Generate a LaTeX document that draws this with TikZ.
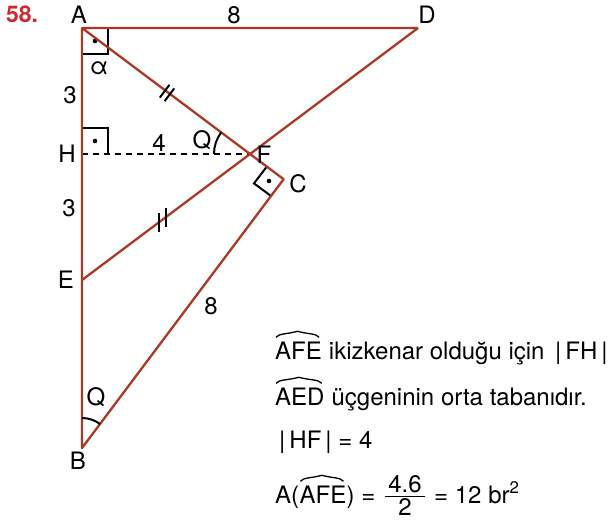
\documentclass[tikz,border=0pt]{standalone}
\usepackage{fontspec}
\setmainfont{TeX Gyre Heros}
\usetikzlibrary{calc}
\definecolor{segc}{RGB}{168,58,38}
\definecolor{numred}{RGB}{205,40,45}
\begin{document}
\begin{tikzpicture}[x=1pt,y=-1pt,
  font=\fontsize{24}{28}\selectfont,
  seg/.style={draw=segc, line width=2.3pt, line join=round},
  rmark/.style={draw=black, line width=2pt},
  dashline/.style={draw=black, line width=2pt, dash pattern=on 6pt off 5pt},
  angarc/.style={draw=black, line width=2pt},
  tickmark/.style={draw=black, line width=2pt},
  hat/.style={draw=black, line width=1.3pt, line join=round},
  lbl/.style={inner sep=0pt},
  txt/.style={inner sep=0pt, anchor=base west}]
\useasboundingbox (0,0) rectangle (612,521);
% points
\coordinate (A) at (82,28);
\coordinate (D) at (418,28);
\coordinate (H) at (82,154);
\coordinate (F) at (250,154);
\coordinate (E) at (82,280);
\coordinate (B) at (82,448);
\coordinate (C) at (283.6,179.2);
% right angle markers
\draw[rmark] ($(A)+(26,0)$) -- ++(0,26) -- ++(-26,0);
\fill (95,41) circle (2.3);
\draw[rmark] ($(H)+(0,-26)$) -- ++(26,0) -- ++(0,26);
\fill (95,141) circle (2.3);
\draw[rmark] (266.8,166.6) -- (254,183.4) -- (271,196);
\fill (269,181) circle (2.3);
% dashed
\draw[dashline] (H) -- (F);
% segments
\draw[seg] (D) -- (A) -- (B) -- (C) -- (A);
\draw[seg] (E) -- (D);
% angle arcs
\draw[angarc] ($(F)+(-36,0)$) arc[start angle=180, end angle=216.87, radius=36];
\draw[angarc] ($(B)+(0,-30)$) arc[start angle=270, end angle=307, radius=30];
% ticks
\draw[tickmark] (159.8,97.6) -- (169.4,84.8);
\draw[tickmark] (164.6,101.2) -- (174.2,88.4);
\draw[tickmark] (159,213) -- (159,231.5);
\draw[tickmark] (166,208) -- (166,226.5);
% labels
\node[lbl, text=numred, font=\fontsize{23}{27}\selectfont\bfseries] (n58) at (22,14) {58.};
\node[lbl] (lA) at (79,15) {A};
\node[lbl] (l8a) at (234,15) {8};
\node[lbl] (lD) at (427,15) {D};
\node[lbl] (lal) at (99,68) {α};
\node[lbl] (l3a) at (70,95) {3};
\node[lbl] (lH) at (67,154) {H};
\node[lbl] (l4) at (159,143) {4};
\node[lbl] (lQ1) at (202,140) {Q};
\node[lbl] (lF) at (264,155) {F};
\node[lbl] (lC) at (298,184) {C};
\node[lbl] (l3b) at (69,208) {3};
\node[lbl] (lE) at (66,280) {E};
\node[lbl] (l8b) at (211,306) {8};
\node[lbl] (lQ2) at (96,397) {Q};
\node[lbl] (lB) at (78,461) {B};
% text block
\node[txt] (t1a) at (275,359) {AFE};
\node[txt] (t1b) at (t1a.base east) {\ ikizkenar olduğu için \,|\,FH\,|};
\node[txt] (t2a) at (275,405) {AED};
\node[txt] (t2b) at (t2a.base east) {\ üçgeninin orta tabanıdır.};
\node[txt] (t3) at (279,448) {|\,HF\,| = 4};
\node[txt] (t4a) at (275,503) {A(};
\node[txt] (t4b) at (t4a.base east) {AFE};
\node[txt] (t4c) at (t4b.base east) {) =};
\node[lbl, anchor=base] (num) at (405,492) {4.6};
\node[lbl, anchor=base] (den) at (405,515) {2};
\draw[line width=1.2pt] (385,496.5) -- (425,496.5);
\node[txt] (t4d) at (434,503) {= 12 br\textsuperscript{2}};
% hats
\foreach \n in {t1a,t2a,t4b}{
  \draw[hat] ($(\n.north west)+(1,-4)$) .. controls +(3,-4) and +(-11,3) .. ($(\n.north)+(-1,-10)$)
    .. controls +(11,3) and +(-3,-4) .. ($(\n.north east)+(-3,-4)$);
}
\end{tikzpicture}
\end{document}
